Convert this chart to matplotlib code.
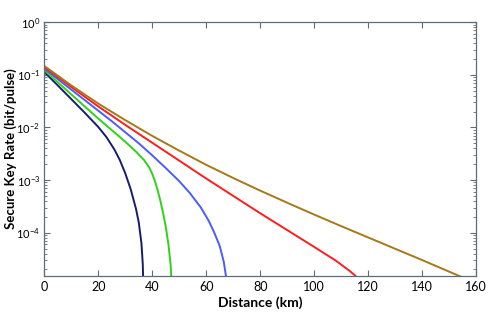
import numpy as np
import matplotlib
matplotlib.use('Agg')
import matplotlib.pyplot as plt
from matplotlib.ticker import LogLocator, NullFormatter

plt.rcParams['font.family'] = ['Lato', 'DejaVu Sans']
plt.rcParams['mathtext.default'] = 'regular'

# distance (km) and log10 of secure key rate
navy_km = [0, 5, 10, 15, 20, 23, 26, 28, 30, 32, 34, 35, 36, 36.5, 36.8]
navy_log = [-0.945, -1.2, -1.46, -1.72, -1.99, -2.18, -2.42, -2.62, -2.87, -3.17, -3.55, -3.8, -4.2, -4.6, -5.2]

green_km = [0, 5, 10, 15, 20, 25, 30, 34, 37, 39, 40, 41, 42, 43, 44, 45, 46, 46.8, 47.6]
green_log = [-0.91, -1.14, -1.37, -1.6, -1.83, -2.05, -2.27, -2.46, -2.62, -2.77, -2.88, -3.02, -3.19, -3.39, -3.62, -3.88, -4.22, -4.6, -5.3]

blue_km = [0, 5, 10, 15, 20, 25, 30, 35, 40, 45, 50, 54, 58, 61, 63, 65, 66.5, 67.4, 67.9]
blue_log = [-0.88, -1.08, -1.28, -1.48, -1.68, -1.88, -2.09, -2.3, -2.53, -2.77, -3.02, -3.25, -3.52, -3.78, -4.0, -4.25, -4.55, -4.85, -5.3]

red_km = [0, 10, 20, 30, 40, 50, 60, 70, 80, 90, 100, 108, 113, 115.3, 116]
red_log = [-0.85, -1.23, -1.6, -1.95, -2.29, -2.63, -2.97, -3.3, -3.63, -3.95, -4.27, -4.53, -4.72, -4.82, -4.9]

brown_km = [0, 10, 20, 30, 40, 50, 60, 70, 80, 90, 100, 110, 120, 130, 140, 150, 155]
brown_log = [-0.83, -1.2, -1.545, -1.86, -2.16, -2.44, -2.71, -2.96, -3.2, -3.43, -3.655, -3.875, -4.09, -4.305, -4.52, -4.74, -4.85]

series = [
    (navy_km, navy_log, '#161c70'),
    (green_km, green_log, '#2ed414'),
    (blue_km, blue_log, '#4a5cff'),
    (red_km, red_log, '#ff1c1c'),
    (brown_km, brown_log, '#a6781a'),
]

fig = plt.figure(figsize=(4.96, 3.19), dpi=100)
ax = fig.add_axes([0.0893, 0.1357, 0.8704, 0.7944])

for km, lg, col in series:
    ax.plot(km, 10 ** np.array(lg), color=col, linewidth=1.4, solid_joinstyle='round')

ax.set_yscale('log')
ax.set_xlim(0, 160)
ax.set_ylim(1.52e-5, 1)
ax.set_xticks(range(0, 161, 20))
ax.yaxis.set_major_locator(LogLocator(base=10, numticks=10))
ax.yaxis.set_minor_locator(LogLocator(base=10, subs=np.arange(2, 10), numticks=10))
ax.yaxis.set_minor_formatter(NullFormatter())

frame = '#5f6b78'
for s in ax.spines.values():
    s.set_color(frame)
    s.set_linewidth(0.9)
ax.tick_params(which='both', direction='in', top=True, right=True, color=frame)
ax.tick_params(which='major', length=4)
ax.tick_params(which='minor', length=2)
ax.tick_params(axis='x', labelsize=9, pad=4)
ax.tick_params(axis='y', labelsize=8, pad=3)

ax.set_xlabel('Distance (km)', fontsize=10, fontweight='bold', labelpad=2)
ax.set_ylabel('Secure Key Rate (bit/pulse)', fontsize=9.5, fontweight='bold', va='center')
ax.yaxis.set_label_coords(-0.078, 0.5)

fig.savefig('out.png', dpi=100)
